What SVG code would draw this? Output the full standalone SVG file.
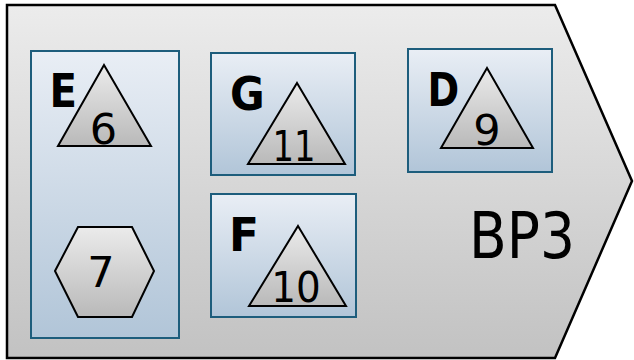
<svg xmlns="http://www.w3.org/2000/svg" width="634" height="360" viewBox="0 0 634 360">
<defs>
<linearGradient id="gOuter" x1="0" y1="0" x2="0" y2="1"><stop offset="0" stop-color="#ececec"/><stop offset="1" stop-color="#c2c2c2"/></linearGradient>
<linearGradient id="gBox" x1="0" y1="0" x2="0" y2="1"><stop offset="0" stop-color="#e9eef5"/><stop offset="1" stop-color="#b1c5d8"/></linearGradient>
<linearGradient id="gShape" x1="0" y1="0" x2="0" y2="1"><stop offset="0" stop-color="#ebebeb"/><stop offset="1" stop-color="#b9b9b9"/></linearGradient>
<style>
.box{fill:url(#gBox);stroke:#1d5d7c;stroke-width:2}
.shape{fill:url(#gShape);stroke:#000;stroke-width:2;stroke-linejoin:miter}
.lbl{font-family:"DejaVu Sans",sans-serif;font-weight:bold;font-size:46px;fill:#000}
.num{font-family:"DejaVu Sans",sans-serif;font-size:43px;fill:#000;text-anchor:middle}
</style>
</defs>
<g id="BP3">
<path d="M7,5 L555,5 L632,181 L555,358 L7,358 Z" fill="url(#gOuter)" stroke="#000" stroke-width="2.5"/>
<text x="469" y="258" font-family="DejaVu Sans,sans-serif" font-size="64" textLength="106" lengthAdjust="spacingAndGlyphs">BP3</text>
</g>
<g id="E">
<rect class="box" x="31" y="51" width="148" height="287"/>
<text class="lbl" x="49.5" y="107" textLength="27.5" lengthAdjust="spacingAndGlyphs">E</text>
<g id="n6"><path class="shape" d="M104,65 L151,146 L58,146 Z"/><text class="num" x="103.5" y="144">6</text></g>
<g id="n7"><path class="shape" d="M55,271 L78,227 L132,227 L154,271 L132,317 L78,317 Z"/><text class="num" x="101" y="287">7</text></g>
</g>
<g id="G">
<rect class="box" x="211" y="53" width="144" height="122"/>
<text class="lbl" x="230" y="110" textLength="34.7" lengthAdjust="spacingAndGlyphs">G</text>
<g id="n11"><path class="shape" d="M297,83 L345,164 L248,164 Z"/><text class="num" x="294" y="161" textLength="43" lengthAdjust="spacingAndGlyphs">11</text></g>
</g>
<g id="F">
<rect class="box" x="211" y="194" width="145" height="123"/>
<text class="lbl" x="229" y="251" textLength="30" lengthAdjust="spacingAndGlyphs">F</text>
<g id="n10"><path class="shape" d="M298,226 L346,306 L249,306 Z"/><text class="num" x="296" y="302" textLength="49.5" lengthAdjust="spacingAndGlyphs">10</text></g>
</g>
<g id="D">
<rect class="box" x="408" y="49" width="144" height="123"/>
<text class="lbl" x="427.5" y="106" textLength="31.7" lengthAdjust="spacingAndGlyphs">D</text>
<g id="n9"><path class="shape" d="M487,68 L533,148 L441,148 Z"/><text class="num" x="487" y="145">9</text></g>
</g>
<g id="connectors"/>
</svg>
